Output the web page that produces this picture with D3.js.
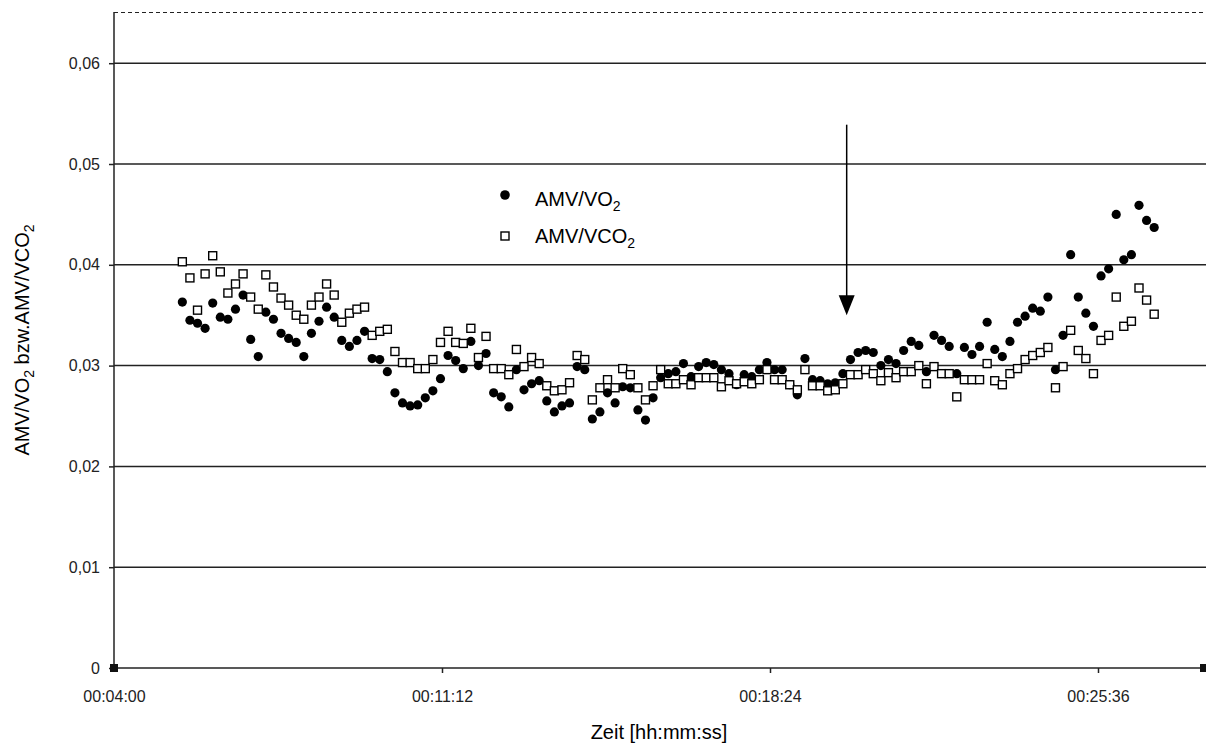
<!DOCTYPE html>
<meta charset="utf-8">
<style>
    body {
        margin: 0;
        background-color: #fff;
    }

    svg {
        font-family: "Liberation Sans", Arial, sans-serif;
    }

    .axis path,
    .axis line {
        fill: none;
        stroke: #222;
        stroke-width: 1.5;
    }
</style>
<body>
<script src="https://cdn.jsdelivr.net/npm/d3@7/dist/d3.min.js"></script>
<script>

    // measurement times (mm:ss), one every 10 s
    const times = [
        "05:30", "05:40", "05:50",
        "06:00", "06:10", "06:20", "06:30", "06:40", "06:50",
        "07:00", "07:10", "07:20", "07:30", "07:40", "07:50",
        "08:00", "08:10", "08:20", "08:30", "08:40", "08:50",
        "09:00", "09:10", "09:20", "09:30", "09:40", "09:50",
        "10:00", "10:10", "10:20", "10:30", "10:40", "10:50",
        "11:00", "11:10", "11:20", "11:30", "11:40", "11:50",
        "12:00", "12:10", "12:20", "12:30", "12:40", "12:50",
        "13:00", "13:10", "13:20", "13:30", "13:40", "13:50",
        "14:00", "14:10", "14:20", "14:30", "14:40", "14:50",
        "15:00", "15:10", "15:20", "15:30", "15:40", "15:50",
        "16:00", "16:10", "16:20", "16:30", "16:40", "16:50",
        "17:00", "17:10", "17:20", "17:30", "17:40", "17:50",
        "18:00", "18:10", "18:20", "18:30", "18:40", "18:50",
        "19:00", "19:10", "19:20", "19:30", "19:40", "19:50",
        "20:00", "20:10", "20:20", "20:30", "20:40", "20:50",
        "21:00", "21:10", "21:20", "21:30", "21:40", "21:50",
        "22:00", "22:10", "22:20", "22:30", "22:40", "22:50",
        "23:00", "23:10", "23:20", "23:30", "23:40", "23:50",
        "24:00", "24:10", "24:20", "24:30", "24:40", "24:50",
        "25:00", "25:10", "25:20", "25:30", "25:40", "25:50",
        "26:00", "26:10", "26:20", "26:30", "26:40", "26:50"
    ];

    // AMV/VO2 (filled circles)
    const amvVO2 = [
        0.0363, 0.0345, 0.0342, 0.0337, 0.0362, 0.0348, 0.0346, 0.0356, 0.0370, 0.0326,
        0.0309, 0.0353, 0.0346, 0.0332, 0.0327, 0.0323, 0.0309, 0.0332, 0.0344, 0.0358,
        0.0348, 0.0325, 0.0319, 0.0325, 0.0334, 0.0307, 0.0306, 0.0294, 0.0273, 0.0263,
        0.0260, 0.0261, 0.0268, 0.0275, 0.0287, 0.0310, 0.0305, 0.0297, 0.0324, 0.0300,
        0.0312, 0.0273, 0.0269, 0.0259, 0.0296, 0.0276, 0.0282, 0.0285, 0.0265, 0.0254,
        0.0260, 0.0263, 0.0299, 0.0296, 0.0247, 0.0254, 0.0273, 0.0263, 0.0279, 0.0278,
        0.0256, 0.0246, 0.0268, 0.0288, 0.0292, 0.0294, 0.0302, 0.0289, 0.0299, 0.0303,
        0.0301, 0.0296, 0.0292, 0.0281, 0.0291, 0.0289, 0.0296, 0.0303, 0.0296, 0.0296,
        0.0281, 0.0271, 0.0307, 0.0286, 0.0285, 0.0282, 0.0283, 0.0292, 0.0306, 0.0313,
        0.0315, 0.0313, 0.0300, 0.0306, 0.0302, 0.0315, 0.0324, 0.0320, 0.0294, 0.0330,
        0.0325, 0.0319, 0.0292, 0.0318, 0.0311, 0.0319, 0.0343, 0.0316, 0.0309, 0.0324,
        0.0343, 0.0349, 0.0357, 0.0354, 0.0368, 0.0296, 0.0330, 0.0410, 0.0368, 0.0352,
        0.0339, 0.0389, 0.0396, 0.0450, 0.0405, 0.0410, 0.0459, 0.0444, 0.0437
    ];

    // AMV/VCO2 (open squares)
    const amvVCO2 = [
        0.0403, 0.0387, 0.0355, 0.0391, 0.0409, 0.0393, 0.0372, 0.0381, 0.0391, 0.0368,
        0.0356, 0.0390, 0.0378, 0.0367, 0.0360, 0.0350, 0.0346, 0.0360, 0.0368, 0.0381,
        0.0370, 0.0343, 0.0352, 0.0356, 0.0358, 0.0330, 0.0334, 0.0336, 0.0314, 0.0303,
        0.0303, 0.0297, 0.0297, 0.0306, 0.0323, 0.0334, 0.0323, 0.0322, 0.0337, 0.0308,
        0.0329, 0.0297, 0.0297, 0.0291, 0.0316, 0.0299, 0.0308, 0.0302, 0.0280, 0.0275,
        0.0276, 0.0283, 0.0310, 0.0306, 0.0266, 0.0278, 0.0286, 0.0278, 0.0297, 0.0291,
        0.0278, 0.0266, 0.0280, 0.0296, 0.0282, 0.0282, 0.0286, 0.0281, 0.0288, 0.0288,
        0.0288, 0.0279, 0.0285, 0.0282, 0.0284, 0.0282, 0.0286, 0.0296, 0.0286, 0.0286,
        0.0281, 0.0276, 0.0296, 0.0280, 0.0280, 0.0275, 0.0276, 0.0282, 0.0291, 0.0291,
        0.0296, 0.0292, 0.0285, 0.0293, 0.0288, 0.0294, 0.0294, 0.0300, 0.0282, 0.0299,
        0.0292, 0.0292, 0.0269, 0.0286, 0.0286, 0.0286, 0.0302, 0.0285, 0.0281, 0.0292,
        0.0297, 0.0306, 0.0310, 0.0313, 0.0318, 0.0278, 0.0299, 0.0335, 0.0315, 0.0307,
        0.0292, 0.0325, 0.0330, 0.0368, 0.0339, 0.0344, 0.0377, 0.0365, 0.0351
    ];

    const xTickLabels = ["00:04:00", "00:11:12", "00:18:24", "00:25:36"];
    const yTicks = [0, 0.01, 0.02, 0.03, 0.04, 0.05, 0.06];
    const yTickLabels = ["0", "0,01", "0,02", "0,03", "0,04", "0,05", "0,06"];

    // arrow annotation: time, start value, tip value
    const arrow = {time: "20:05", from: 0.0539, to: 0.0350};

    const width = 1206;
    const height = 745;
    const plotLeft = 114, plotRight = 1206, plotTop = 12, plotBottom = 668;

    //"hh:mm:ss" or "mm:ss" -> seconds
    function toSec(s) {
        return s.split(":").map(Number).reduce((a, b) => a * 60 + b, 0);
    }

    const x = d3.scaleLinear()
        .domain([toSec(xTickLabels[0]), toSec(xTickLabels[3])])
        .range([plotLeft, 1098]);

    const y = d3.scaleLinear()
        .domain([0, 0.06])
        .range([plotBottom, 63.2]);

    const svg = d3.select('body')
        .append('svg')
        .attr('width', width)
        .attr('height', height);

    // top border of the plot area, dashed
    svg.append('line')
        .attr('x1', plotLeft).attr('x2', plotRight)
        .attr('y1', plotTop + 0.5).attr('y2', plotTop + 0.5)
        .style('stroke', '#222')
        .style('stroke-width', 1.2)
        .style('stroke-dasharray', '4,3');

    // horizontal gridlines
    svg.append('g')
        .selectAll('line')
        .data(yTicks.slice(1))
        .enter().append('line')
        .attr('x1', plotLeft).attr('x2', plotRight)
        .attr('y1', d => y(d)).attr('y2', d => y(d))
        .style('stroke', '#222')
        .style('stroke-width', 1.5);

    // y axis
    const yAxis = d3.axisLeft(y)
        .tickValues(yTicks)
        .tickSize(5)
        .tickSizeOuter(0)
        .tickFormat((d, i) => yTickLabels[i]);

    const gy = svg.append('g')
        .attr('class', 'axis')
        .attr('transform', 'translate(' + plotLeft + ',0)')
        .call(yAxis);
    gy.select('.domain').attr('d', 'M0,' + plotTop + 'V' + plotBottom);
    gy.selectAll('text')
        .attr('x', -14)
        .style('font-size', '16px')
        .style('font-family', '"Liberation Sans", Arial, sans-serif')
        .style('fill', '#222');

    // x axis
    const xAxis = d3.axisBottom(x)
        .tickValues(xTickLabels.map(toSec))
        .tickSize(5)
        .tickSizeOuter(0)
        .tickFormat((d, i) => xTickLabels[i]);

    const gx = svg.append('g')
        .attr('class', 'axis')
        .attr('transform', 'translate(0,' + plotBottom + ')')
        .call(xAxis);
    gx.select('.domain').attr('d', 'M' + plotLeft + ',0H' + plotRight);
    gx.selectAll('.tick').filter((d, i) => i === 0).select('line').remove();
    gx.selectAll('text')
        .attr('y', 23)
        .style('font-size', '16px')
        .style('font-family', '"Liberation Sans", Arial, sans-serif')
        .style('fill', '#222');

    // little end markers on the x axis
    svg.append('g')
        .selectAll('rect')
        .data([plotLeft, plotRight - 2])
        .enter().append('rect')
        .attr('x', d => d - 4)
        .attr('y', plotBottom - 4)
        .attr('width', 8)
        .attr('height', 8)
        .style('fill', '#111');

    // axis titles
    svg.append('text')
        .attr('x', 659)
        .attr('y', 739)
        .style('text-anchor', 'middle')
        .style('font-size', '20px')
        .text('Zeit [hh:mm:ss]');

    const yTitle = svg.append('text')
        .attr('transform', 'translate(29,340) rotate(-90)')
        .style('text-anchor', 'middle')
        .style('font-size', '20px');
    yTitle.append('tspan').text('AMV/VO');
    yTitle.append('tspan').attr('dy', 5).style('font-size', '14px').text('2');
    yTitle.append('tspan').attr('dy', -5).text(' bzw.AMV/VCO');
    yTitle.append('tspan').attr('dy', 5).style('font-size', '14px').text('2');

    const points = times.map((t, i) => ({t: toSec(t), vo2: amvVO2[i], vco2: amvVCO2[i]}));

    // AMV/VO2 dots
    svg.append('g')
        .selectAll('circle')
        .data(points)
        .enter().append('circle')
        .attr('cx', d => x(d.t))
        .attr('cy', d => y(d.vo2))
        .attr('r', 4.6)
        .style('fill', '#000');

    // AMV/VCO2 squares, drawn on top
    svg.append('g')
        .selectAll('rect')
        .data(points)
        .enter().append('rect')
        .attr('x', d => x(d.t) - 4)
        .attr('y', d => y(d.vco2) - 4)
        .attr('width', 8)
        .attr('height', 8)
        .style('fill', '#fff')
        .style('stroke', '#000')
        .style('stroke-width', 1.4);

    // arrow
    const ax = x(toSec(arrow.time));
    svg.append('line')
        .attr('x1', ax).attr('x2', ax)
        .attr('y1', y(arrow.from)).attr('y2', y(arrow.to) - 16)
        .style('stroke', '#000')
        .style('stroke-width', 1.5);
    svg.append('path')
        .attr('d', 'M' + (ax - 8) + ',' + (y(arrow.to) - 20) + 'L' + (ax + 8) + ',' + (y(arrow.to) - 20) +
            'L' + ax + ',' + y(arrow.to) + 'Z')
        .style('fill', '#000');

    // legend
    const legend = svg.append('g').attr('transform', 'translate(505,195)');
    legend.append('circle').attr('cx', 0).attr('cy', 0).attr('r', 4.8).style('fill', '#000');
    legend.append('rect').attr('x', -4).attr('y', 37).attr('width', 8).attr('height', 8)
        .style('fill', '#fff').style('stroke', '#000').style('stroke-width', 1.4);

    const l1 = legend.append('text').attr('x', 30).attr('y', 11).style('font-size', '20px');
    l1.append('tspan').text('AMV/VO');
    l1.append('tspan').attr('dy', 5).style('font-size', '14px').text('2');

    const l2 = legend.append('text').attr('x', 30).attr('y', 48).style('font-size', '20px');
    l2.append('tspan').text('AMV/VCO');
    l2.append('tspan').attr('dy', 5).style('font-size', '14px').text('2');

</script>
</body>
</html>
